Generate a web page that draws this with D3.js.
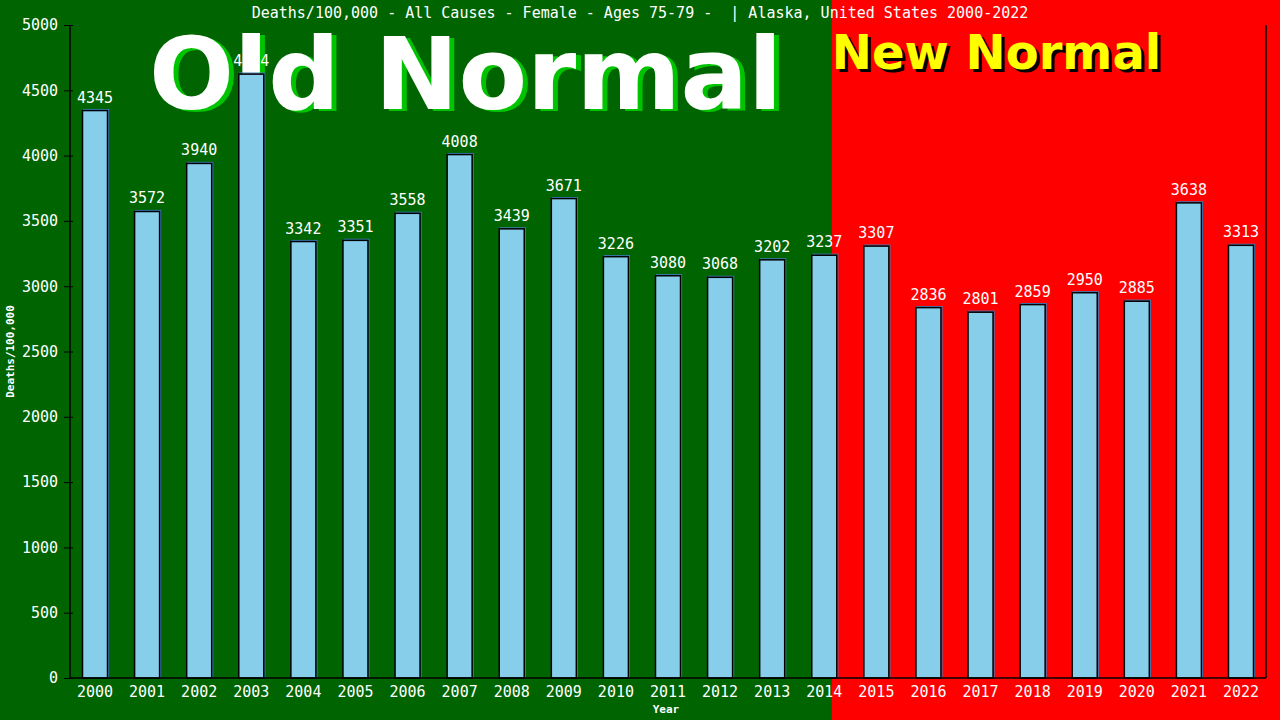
<!DOCTYPE html>
<html>
<head>
<meta charset="utf-8">
<script src="https://cdn.jsdelivr.net/npm/d3@7"></script>
<style>
html,body{margin:0;padding:0;background:#006400;}
svg{display:block;}
text{font-family:"DejaVu Sans Mono","Liberation Mono",monospace;white-space:pre;}
</style>
</head>
<body>
<svg id="chart" width="1280" height="720"></svg>
<script>
const years = ["2000","2001","2002","2003","2004","2005","2006","2007","2008","2009","2010","2011","2012","2013","2014","2015","2016","2017","2018","2019","2020","2021","2022"];
const deaths = [4345,3572,3940,4624,3342,3351,3558,4008,3439,3671,3226,3080,3068,3202,3237,3307,2836,2801,2859,2950,2885,3638,3313];
const yTicks = [0,500,1000,1500,2000,2500,3000,3500,4000,4500,5000];
const titleText = "Deaths/100,000 - All Causes - Female - Ages 75-79 -  | Alaska, United States 2000-2022";
const yTitle = "Deaths/100,000";
const xTitle = "Year";
const oldLabel = "Old Normal";
const newLabel = "New Normal";

const W = 1280, H = 720;
const m = {left:70, right:14, top:25, bottom:42};
const svg = d3.select("#chart");

const x = d3.scaleBand().domain(years).range([m.left, W - m.right]).paddingInner(0.52).paddingOuter(0.24);
const y = d3.scaleLinear().domain([0,5000]).range([H - m.bottom, m.top]);

// backgrounds
const split = x("2014") + x.bandwidth()*0.8;
svg.append("rect").attr("x",0).attr("y",0).attr("width",split).attr("height",H).attr("fill","#006400");
svg.append("rect").attr("x",split).attr("y",0).attr("width",W-split).attr("height",H).attr("fill","#ff0000");

// big labels
const oldG = svg.append("g").attr("font-weight","bold").attr("font-size",100);
oldG.append("text").attr("x",154).attr("y",111).attr("fill","#00c400").text(oldLabel).style("font-family","'DejaVu Sans',sans-serif");
oldG.append("text").attr("x",149).attr("y",109).attr("fill","#ffffff").text(oldLabel).style("font-family","'DejaVu Sans',sans-serif");

const newG = svg.append("g").attr("font-weight","bold").attr("font-size",48);
newG.append("text").attr("x",split+3).attr("y",72).attr("fill","#000000").text(newLabel).style("font-family","'DejaVu Sans',sans-serif");
newG.append("text").attr("x",split).attr("y",69).attr("fill","#ffff00").text(newLabel).style("font-family","'DejaVu Sans',sans-serif");

// title
svg.append("text").attr("x",W/2).attr("y",18).attr("text-anchor","middle").attr("fill","#fff").attr("font-size",15).attr("xml:space","preserve").text(titleText);

// bars: shadow + main
const bars = svg.append("g");
bars.selectAll("rect.sh").data(years).join("rect").attr("class","sh")
  .attr("x",d=>x(d)+1).attr("y",(d,i)=>y(deaths[i])-1)
  .attr("width",x.bandwidth()).attr("height",(d,i)=>y(0)-y(deaths[i]))
  .attr("fill","none").attr("stroke","#3f7fbf").attr("stroke-width",1.2);
bars.selectAll("rect.b").data(years).join("rect").attr("class","b")
  .attr("x",d=>x(d)).attr("y",(d,i)=>y(deaths[i]))
  .attr("width",x.bandwidth()).attr("height",(d,i)=>y(0)-y(deaths[i]))
  .attr("fill","#87ceeb").attr("stroke","#000").attr("stroke-width",1.5);

// value labels
svg.append("g").selectAll("text").data(years).join("text")
  .attr("x",d=>x(d)+x.bandwidth()/2).attr("y",(d,i)=>y(deaths[i])-8)
  .attr("text-anchor","middle").attr("fill","#fff").attr("font-size",15)
  .text((d,i)=>deaths[i]);

// y axis
const yAxis = svg.append("g").attr("transform",`translate(${m.left},0)`)
  .call(d3.axisLeft(y).tickValues(yTicks).tickSize(6).tickPadding(6).tickFormat(d3.format("d")));
yAxis.select(".domain").attr("stroke","#000").attr("stroke-width",1.5).attr("d",`M0,${y(5000)}V${y(0)}`);
yAxis.selectAll(".tick line").attr("stroke","#000").attr("x1",3).attr("x2",-6);
yAxis.selectAll(".tick text").attr("fill","#fff").attr("font-size",15).attr("font-family","'DejaVu Sans Mono',monospace");

// x axis
const xAxis = svg.append("g").attr("transform",`translate(0,${y(0)})`)
  .call(d3.axisBottom(x).tickSize(0).tickPadding(8));
xAxis.select(".domain").attr("stroke","#000").attr("stroke-width",1.5).attr("d",`M${m.left},0H${W-m.right}`);
xAxis.selectAll(".tick text").attr("fill","#fff").attr("font-size",15).attr("font-family","'DejaVu Sans Mono',monospace");

// right border
svg.append("line").attr("x1",W-m.right).attr("x2",W-m.right).attr("y1",y(5000)).attr("y2",y(0)).attr("stroke","#000").attr("stroke-width",1.5);

// axis titles
svg.append("text").attr("x",(m.left+W-m.right)/2 - 2).attr("y",713).attr("text-anchor","middle")
  .attr("fill","#fff").attr("font-size",11).attr("font-weight","bold").text(xTitle);
svg.append("text").attr("transform",`translate(14,${(y(0)+y(5000))/2}) rotate(-90)`).attr("text-anchor","middle")
  .attr("fill","#fff").attr("font-size",11).attr("font-weight","bold").text(yTitle);
</script>
</body>
</html>
